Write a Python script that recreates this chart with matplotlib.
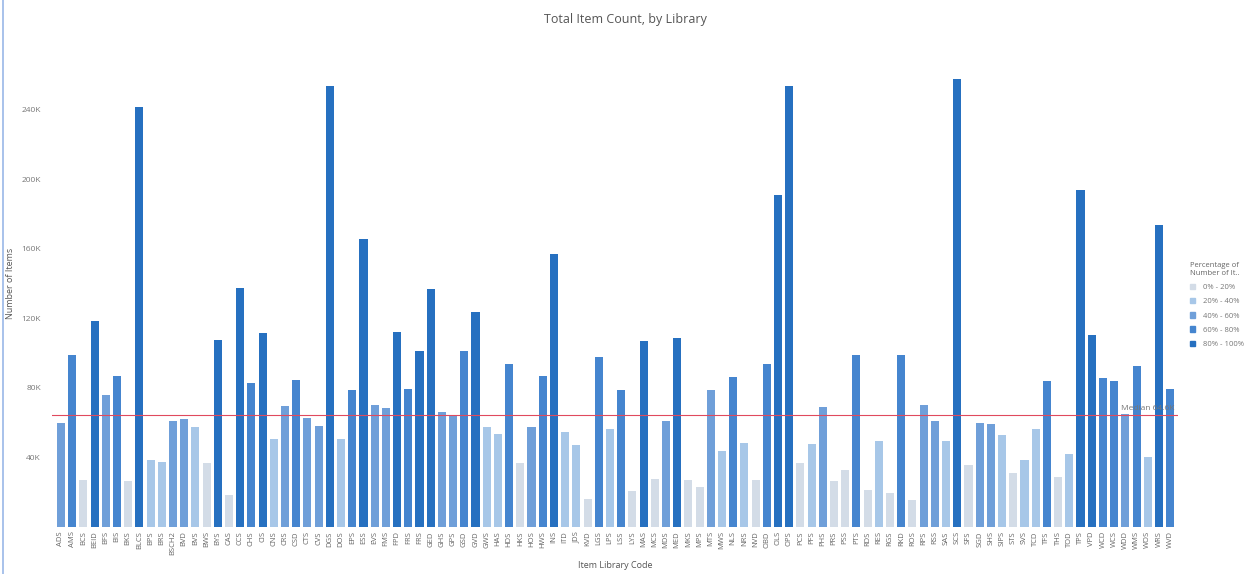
import matplotlib as mpl
mpl.use('Agg')
import matplotlib.pyplot as plt
import numpy as np
from matplotlib.patches import Patch
from matplotlib.ticker import FuncFormatter

plt.rcParams['font.family'] = ['Open Sans', 'DejaVu Sans']

libraries = ['ADS', 'AMS', 'BCS', 'BEID', 'BFS', 'BIS', 'BKS', 'BLCS', 'BPS', 'BRS',
             'BSCH2', 'BVD', 'BVS', 'BWS', 'BYS', 'CAS', 'CCS', 'CHS', 'CIS', 'CNS',
             'CRS', 'CSD', 'CTS', 'CVS', 'DGS', 'DOS', 'EPS', 'ESS', 'EVS', 'FMS',
             'FPD', 'FRS', 'FRS', 'GED', 'GHS', 'GPS', 'GSD', 'GVD', 'GWS', 'HAS',
             'HDS', 'HKS', 'HOS', 'HWS', 'INS', 'ITD', 'JDS', 'KVD', 'LGS', 'LPS',
             'LSS', 'LYS', 'MAS', 'MCS', 'MDS', 'MED', 'MKS', 'MPS', 'MTS', 'MWS',
             'NLS', 'NRS', 'NVD', 'OBD', 'OLS', 'OPS', 'PCS', 'PFS', 'PHS', 'PRS',
             'PSS', 'PTS', 'RDS', 'RES', 'RGS', 'RKD', 'ROS', 'RPS', 'RSS', 'SAS',
             'SCS', 'SFS', 'SGD', 'SHS', 'SIPS', 'STS', 'SVS', 'TCD', 'TFS', 'THS',
             'TOD', 'TPS', 'VPD', 'WCD', 'WCS', 'WDD', 'WMS', 'WOS', 'WRS', 'WVD']

# item counts in thousands
items_k = [59.8, 98.7, 26.8, 118.4, 75.9, 86.6, 26.4, 241.4, 38.7, 37.5,
           60.7, 62.3, 57.5, 36.8, 107.3, 18.2, 137.4, 83.0, 111.5, 50.6,
           69.3, 84.3, 62.8, 58.2, 253.8, 50.6, 78.5, 165.3, 70.3, 68.4,
           112.1, 79.5, 101.0, 137.0, 66.1, 64.6, 101.0, 123.9, 57.5, 53.6,
           93.5, 36.8, 57.5, 87.0, 156.7, 54.6, 46.9, 16.3, 97.7, 56.5,
           78.9, 20.7, 106.9, 27.8, 60.7, 108.6, 26.8, 23.0, 78.5, 43.7,
           86.2, 48.5, 27.2, 93.5, 190.6, 253.8, 37.0, 47.9, 69.0, 26.4,
           32.6, 99.0, 21.1, 49.4, 19.7, 99.0, 15.3, 69.9, 60.7, 49.4,
           257.3, 35.8, 60.0, 59.4, 52.7, 31.2, 38.7, 56.5, 83.7, 28.7,
           41.8, 193.5, 110.5, 85.6, 83.7, 65.1, 92.3, 40.2, 173.4, 79.1]

median_k = 64.6

bin_labels = ['0% - 20%', '20% - 40%', '40% - 60%', '60% - 80%', '80% - 100%']
bin_colors = ['#d3dce7', '#a7c7e8', '#6f9fd9', '#4585cf', '#2670c0']

vals = np.array(items_k)
ranks = vals.argsort().argsort()
pct = ranks / len(vals)
bins = np.minimum((pct * 5).astype(int), 4)
colors = [bin_colors[b] for b in bins]

fig = plt.figure(figsize=(12.51, 5.74), dpi=100)
ax = fig.add_axes([52 / 1251, 1 - 527 / 574, 1126 / 1251, 487 / 574])

x = np.arange(len(libraries))
ax.bar(x, vals, width=0.72, color=colors)
ax.set_xlim(-0.8, len(libraries) - 0.3)
ax.set_ylim(0, 280)
ax.set_yticks([40, 80, 120, 160, 200, 240])
ax.yaxis.set_major_formatter(FuncFormatter(lambda v, p: '%dK' % v))
ax.set_xticks(x)
ax.set_xticklabels(libraries, rotation=90, fontsize=5.5, color='#666666')
ax.tick_params(axis='y', labelsize=6, colors='#777777', length=0, pad=8)
ax.tick_params(axis='x', length=0, pad=3)
for s in ax.spines.values():
    s.set_visible(False)

ax.axhline(median_k, color='#e04a5e', lw=0.8, zorder=3)
ax.text(len(libraries) - 0.6, median_k + 1.5, 'Median %.1fK' % median_k,
        ha='right', va='bottom', fontsize=6, color='#777777')

ax.set_ylabel('Number of Items', fontsize=6.5, color='#555555')
ax.yaxis.set_label_coords(-0.033, 0.5)
ax.set_xlabel('Item Library Code', fontsize=6.5, color='#555555', labelpad=4)
fig.text(0.5, 1 - 19 / 574, 'Total Item Count, by Library', ha='center', va='center',
         fontsize=9, color='#555555')

handles = [Patch(color=c, label=l) for c, l in zip(bin_colors, bin_labels)]
leg = fig.legend(handles=handles, title='Percentage of\nNumber of It..',
                 loc='upper left', bbox_to_anchor=(1183 / 1251, 1 - 255 / 574),
                 fontsize=5.5, title_fontsize=5.5, frameon=False,
                 handlelength=0.7, handleheight=0.7, labelspacing=0.9,
                 handletextpad=1.0)
for t in leg.get_texts():
    t.set_color('#777777')
leg.get_title().set_color('#666666')
leg._legend_box.align = 'left'

fig.add_artist(plt.Line2D([3 / 1251, 3 / 1251], [0, 1], color='#9ab8e8', lw=1.2))

fig.savefig('out.png', dpi=100)
